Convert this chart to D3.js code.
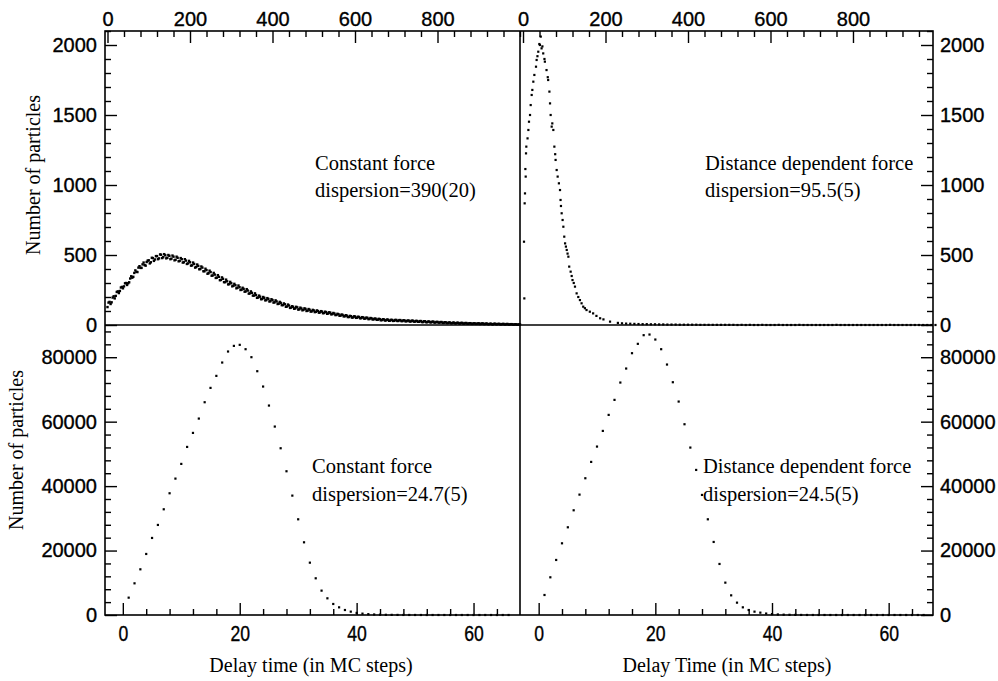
<!DOCTYPE html>
<html><head><meta charset="utf-8">
<script src="https://cdn.jsdelivr.net/npm/d3@7"></script>
<style>body{margin:0;background:#fff}</style>
</head><body><svg id="c" width="998" height="681"></svg>
<script>
// ---------- DATA ----------
// Top-left: constant force, delay time 0..1000 sampled every 5 (run A)
const tlStep = 5;
const tlY = [128,165,162,205,208,240,243,272,276,300,
 298,332,338,372,380,410,408,433,428,450,
 462,448,478,468,492,476,502,484,498,480,
 494,474,488,466,480,458,470,448,460,440,
 448,426,436,414,422,400,410,384,392,370,
 378,354,360,338,344,322,330,306,312,292,
 298,280,284,266,270,252,258,240,246,226,
 230,210,214,196,202,186,194,178,186,170,
 178,162,168,152,158,142,148,132,139,124,
 130,118,126,112,118,108,115,102,109,97,
 104,94,100,90,96,86,92,82,88,78,
 82,72,77,67,72,62,67,57,63,54,
 61,52,57,49,54,46,51,43,48,40,
 45,37,42,35,40,33,38,31,36,30,
 36,29,35,28,33,27,32,25,31,24,
 29,23,28,21,27,20,25,19,24,18,
 22,17,21,15,19,14,18,13,17,12,
 16,11,15,10,14,9,13,8,12,8,
 12,8,11,7,10,6,9,5,9,6,
 8,5,8,4,7,4,6,3,5,3,
 4];
// Top-left run B: delay time 2.5, 7.5, ... 997.5
const tlY2 = [160,150,196,190,236,228,268,262,298,286,
 305,348,344,390,378,420,408,446,424,460,
 440,480,458,492,470,504,478,506,476,500,
 470,496,462,488,455,478,446,470,436,458,
 424,446,410,432,398,418,384,402,366,388,
 352,372,336,356,320,340,306,324,290,308,
 276,294,262,282,250,266,238,256,224,240,
 210,226,194,210,184,200,176,192,168,184,
 160,176,150,165,142,154,130,146,122,134,
 116,130,110,124,105,119,100,114,96,108,
 92,104,88,99,84,95,80,91,76,86,
 71,80,66,75,62,70,57,65,53,62,
 51,59,48,56,45,53,42,50,40,46,
 37,44,34,41,32,39,30,37,29,36,
 29,35,28,34,26,32,25,31,24,29,
 23,28,21,27,20,25,19,24,17,22,
 17,21,15,20,14,18,13,17,12,16,
 11,15,10,14,9,13,8,12,8,11,
 7,11,7,10,6,9,5,9,5,8,
 4,7,4,7,3,6,3,5,2,4];
// Top-right: distance dependent force
const trX = [2.4,3.2,4,4.8,5.7,6.5,7.3,8,11,13,14.5,17,18.6,21,22.6,25,27.5,31.5,33,35,37,39.6,41,43,45,47,49,52,53,57,60,61,64,65.5,67,69.5,71,73.5,76,78,79,81.6,84,87,89.7,91,92,93.7,96,97.8,100,102,104,106,108,110,112,115.5,118,120,123,126,130,134,138,142,146,150,154,162,170,178,187,195,211,230];
const trY = [595,190,869,940,1114,1060,1226,1274,1333,1393,1452,1500,1571,1643,1679,1738,1786,1845,1893,1920,1952,2007,2000,2060,1976,1990,1940,1900,1881,1821,1770,1750,1667,1583,1500,1417,1440,1393,1274,1220,1179,1107,1060,1012,964,893,850,798,750,702,631,583,560,536,510,488,417,381,350,321,300,274,226,200,178,155,131,120,107,95,83,65,48,40,24,15];
const trTailStart = 240, trTailStep = 10;
const trTailY = [12,10,9,8,7,6,6,5,5,4,
 4,3,3,3,2,2,2,2,2,1,
 1,1,1,1,1,1,1,1,0,1,
 0,1,0,0,1,0,0,0,1,0,
 0,0,0,1,0,0,0,0,0,0,
 0,0,1,0,0,0,0,0,0,0,
 0,0,0,0,0,1,0,0,0,0,
 0,0,0,0,0,0,0];
// Bottom panels: delay time 1,2,3,... MC steps
const blY = [5380,9830,14180,18940,23910,27950,32810,37780,42330,46890,52160,56510,60960,66030,70480,74210,78350,81770,83520,83840,82490,80010,75660,70900,65000,58480,51750,44610,37050,29700,22560,16240,11390,7560,5180,3420,2380,1550,1040,650,420,260,160,100,60,40,25,15,10,6,4,3,2,2,1,1,1,0,0,0,0,0,0,0,0,0];
const brY = [6210,11700,17080,22250,27220,32500,37360,42440,47510,52270,57130,62100,66760,72140,76490,81250,84150,86840,87040,85490,82490,77730,72240,66240,59200,51960,45020,37260,29700,22670,15840,10040,6100,3830,2380,1550,1040,730,450,280,170,100,60,35,20,12,7,4,3,2,1,1,1,0,0,0,0,0,0,0,0,0,0,0,0,0];
// Tick values
const topXMajor = [0,200,400,600,800];
const topYMajor = [0,500,1000,1500,2000];
const botXMajor = [0,20,40,60];
const botYMajor = [0,20000,40000,60000,80000];
// Texts
const notes = [
  {p:"tl", a:"Constant force", b:"dispersion=390(20)"},
  {p:"tr", a:"Distance dependent force", b:"dispersion=95.5(5)"},
  {p:"bl", a:"Constant force", b:"dispersion=24.7(5)"},
  {p:"br", a:"Distance dependent force", b:"dispersion=24.5(5)"}
];

// ---------- LAYOUT ----------
const svg = d3.select('#c');
const L=105, M=520, R=933, T=31, Mid=325, B=615;
const xTL = d3.scaleLinear().domain([-6.06,1000]).range([L,M]);
const xTR = d3.scaleLinear().domain([-7.3,994]).range([M,R]);
const yTop = d3.scaleLinear().domain([0,2100]).range([Mid,T]);
const xBL = d3.scaleLinear().domain([-3.05,67.95]).range([L,M]);
const xBR = d3.scaleLinear().domain([-3.2,67.6]).range([M,R]);
const yBot = d3.scaleLinear().domain([0,90000]).range([B,Mid]);

const SANS = "'Liberation Sans', Arial, sans-serif";
const SERIF = "'Liberation Serif', 'Times New Roman', serif";

function minorVals(scale, step, majors){
  const [a,b] = scale.domain();
  const out=[];
  for(let v=Math.ceil(a/step)*step; v<=b; v+=step){ if(!majors.includes(v)) out.push(v); }
  return out;
}
function drawAxis(orient, scale, majors, minorStep, pad, size, sx){
  const gen = {top:d3.axisTop,bottom:d3.axisBottom,left:d3.axisLeft,right:d3.axisRight}[orient];
  const tr = {top:`translate(0,${T})`,bottom:`translate(0,${B})`,left:`translate(${L},0)`,right:`translate(${R},0)`}[orient];
  const g1 = svg.append('g').attr('transform',tr)
    .call(gen(scale).tickValues(minorVals(scale,minorStep,majors)).tickSize(-6).tickFormat(''));
  g1.select('.domain').remove();
  const g2 = svg.append('g').attr('transform',tr)
    .call(gen(scale).tickValues(majors).tickSize(-12).tickPadding(pad).tickFormat(d3.format('d')));
  g2.select('.domain').remove();
  [g1,g2].forEach(g=>g.selectAll('line').attr('stroke','#000').attr('stroke-width',1.4));
  const t = g2.selectAll('text').attr('font-family',SANS).attr('font-size',size)
    .attr('fill','#000').attr('stroke','#000').attr('stroke-width',0.35);
  if(sx) t.attr('transform',`scale(${sx},1)`);
  return g2;
}
// x axes
drawAxis('top', xTL, topXMajor, 40, 5, 20);
drawAxis('top', xTR, topXMajor, 40, 5, 20);
drawAxis('bottom', xBL, botXMajor, 4, 10, 22, 0.8);
drawAxis('bottom', xBR, botXMajor, 4, 10, 22, 0.8);
// y axes
drawAxis('left', yTop, topYMajor, 100, 8, 20);
drawAxis('right', yTop, topYMajor, 100, 7, 20);
drawAxis('left', yBot, botYMajor, 4000, 8, 20);
drawAxis('right', yBot, botYMajor, 4000, 7, 20);

// frame
const fr = svg.append('g').attr('stroke','#000').attr('stroke-width',1.6).attr('fill','none');
fr.append('rect').attr('x',L).attr('y',T).attr('width',R-L).attr('height',B-T);
fr.append('line').attr('x1',L).attr('x2',R).attr('y1',Mid).attr('y2',Mid);
fr.append('line').attr('x1',M).attr('x2',M).attr('y1',T).attr('y2',B);

// data points
function pts(data, xs, ys, s){
  svg.append('g').selectAll('rect').data(data).join('rect')
    .attr('x',d=>xs(d[0])-s/2).attr('y',d=>ys(d[1])-s/2)
    .attr('width',s).attr('height',s).attr('fill','#000');
}
pts(tlY.map((v,i)=>[i*tlStep,v]).concat(tlY2.map((v,i)=>[2.5+i*tlStep,v])), xTL, yTop, 2.4);
pts(trX.map((x,i)=>[x,trY[i]]).concat(trTailY.map((v,i)=>[trTailStart+i*trTailStep,v])), xTR, yTop, 2.2);
pts(blY.map((v,i)=>[i+1,v]), xBL, yBot, 2.2);
pts(brY.map((v,i)=>[i+1,v]), xBR, yBot, 2.2);

// annotations
const pos = {tl:[315,170,197], tr:[705,170,197], bl:[312,473,501], br:[703,473,501]};
notes.forEach(n=>{
  const [x,y1,y2]=pos[n.p];
  svg.append('text').attr('x',x).attr('y',y1).text(n.a)
    .attr('font-family',SERIF).attr('font-size',20.5);
  svg.append('text').attr('x',x).attr('y',y2).text(n.b)
    .attr('font-family',SERIF).attr('font-size',20.5);
});
// axis titles
svg.append('text').attr('transform','translate(40,175) rotate(-90)').attr('text-anchor','middle')
  .attr('font-family',SERIF).attr('font-size',20).text('Number of particles');
svg.append('text').attr('transform','translate(23,450) rotate(-90)').attr('text-anchor','middle')
  .attr('font-family',SERIF).attr('font-size',20).text('Number of particles');
svg.append('text').attr('x',311).attr('y',672).attr('text-anchor','middle')
  .attr('font-family',SERIF).attr('font-size',20).text('Delay time (in MC steps)');
svg.append('text').attr('x',727).attr('y',672).attr('text-anchor','middle')
  .attr('font-family',SERIF).attr('font-size',20).text('Delay Time (in MC steps)');
</script>
</body></html>
